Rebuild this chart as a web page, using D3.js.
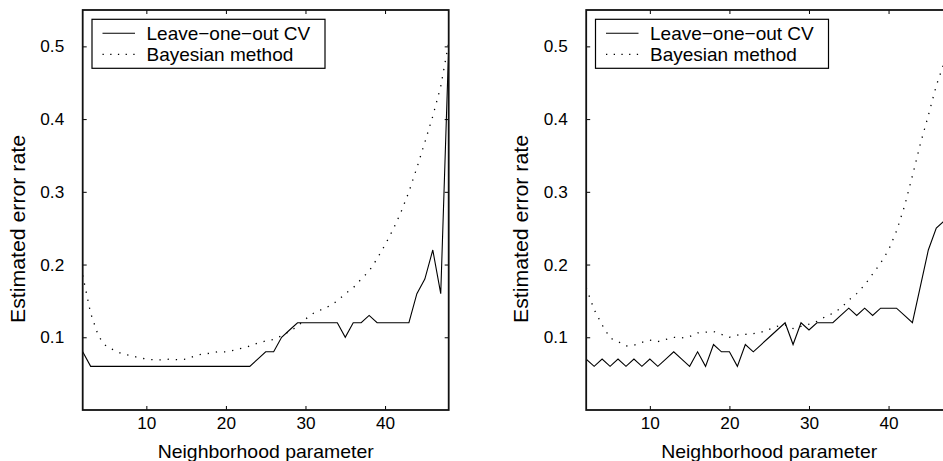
<!DOCTYPE html>
<html>
<head>
<meta charset="utf-8">
<script src="https://cdn.jsdelivr.net/npm/d3@7/dist/d3.min.js"></script>
<style>
  html, body { margin: 0; padding: 0; background: #fff; }
  svg { display: block; }
  text { font-family: "Liberation Sans", Arial, Helvetica, sans-serif; fill: #000; }
</style>
</head>
<body>
<svg id="chart" width="943" height="461"></svg>
<script>
// ---- data ----
const neighborhood = [2,3,4,5,6,7,8,9,10,11,12,13,14,15,16,17,18,19,20,21,22,23,24,25,26,27,28,29,30,31,32,33,34,35,36,37,38,39,40,41,42,43,44,45,46,47,48];

const leftCV = [0.08,0.06,0.06,0.06,0.06,0.06,0.06,0.06,0.06,0.06,0.06,0.06,0.06,0.06,0.06,0.06,0.06,0.06,0.06,0.06,0.06,0.06,0.07,0.08,0.08,0.10,0.11,0.12,0.12,0.12,0.12,0.12,0.12,0.10,0.12,0.12,0.13,0.12,0.12,0.12,0.12,0.12,0.16,0.18,0.22,0.16,0.50];
const leftBayes = [0.185,0.133,0.101,0.087,0.082,0.077,0.075,0.072,0.070,0.069,0.069,0.070,0.069,0.070,0.074,0.077,0.078,0.080,0.080,0.082,0.085,0.088,0.092,0.095,0.097,0.102,0.108,0.115,0.125,0.133,0.138,0.143,0.150,0.160,0.168,0.180,0.191,0.208,0.227,0.248,0.272,0.300,0.333,0.368,0.404,0.445,0.505];

const rightCV = [0.07,0.06,0.07,0.06,0.07,0.06,0.07,0.06,0.07,0.06,0.07,0.08,0.07,0.06,0.08,0.06,0.09,0.08,0.08,0.06,0.09,0.08,0.09,0.10,0.11,0.12,0.09,0.12,0.11,0.12,0.12,0.12,0.13,0.14,0.13,0.14,0.13,0.14,0.14,0.14,0.13,0.12,0.17,0.22,0.25,0.26,0.27];
const rightBayes = [0.168,0.138,0.117,0.099,0.094,0.088,0.089,0.093,0.096,0.094,0.097,0.100,0.099,0.101,0.106,0.107,0.108,0.104,0.100,0.103,0.104,0.105,0.107,0.111,0.115,0.117,0.112,0.115,0.118,0.122,0.128,0.133,0.140,0.151,0.160,0.172,0.187,0.202,0.220,0.246,0.280,0.322,0.366,0.405,0.446,0.478,0.51];

const seriesNames = ["Leave\u2212one\u2212out CV", "Bayesian method"];
const xTicks = [10, 20, 30, 40];
const yTicks = [0.1, 0.2, 0.3, 0.4, 0.5];
const xDomain = [2, 48];
const yDomain = [0, 0.55];
const xLabel = "Neighborhood parameter";
const yLabel = "Estimated error rate";

// ---- layout ----
const panelW = 366, panelH = 400, topM = 10;
const panels = [
  { left: 82.7, cv: leftCV, bayes: leftBayes },
  { left: 586.2, cv: rightCV, bayes: rightBayes }
];
const tickFont = 17.2, labelFont = 19, legendFont = 19;

const svg = d3.select("#chart");

panels.forEach((p, i) => {
  const g = svg.append("g").attr("transform", `translate(${p.left},${topM})`);
  const x = d3.scaleLinear().domain(xDomain).range([0, panelW]);
  const y = d3.scaleLinear().domain(yDomain).range([panelH, 0]);

  const clipId = "clip" + i;
  g.append("clipPath").attr("id", clipId)
    .append("rect").attr("x", 0).attr("y", 0).attr("width", panelW).attr("height", panelH);

  const styleAxis = sel => {
    sel.select(".domain").remove();
    sel.selectAll(".tick line").attr("stroke", "#000").attr("stroke-width", 1);
    sel.selectAll(".tick text").style("font-size", tickFont + "px").attr("fill", "#000");
  };
  g.append("g").attr("transform", `translate(0,${panelH})`)
    .call(d3.axisBottom(x).tickValues(xTicks).tickSizeInner(-4).tickSizeOuter(0).tickPadding(6.5).tickFormat(d3.format("d")))
    .call(styleAxis);
  g.append("g")
    .call(d3.axisTop(x).tickValues(xTicks).tickSizeInner(-4).tickSizeOuter(0).tickFormat(""))
    .call(styleAxis);
  g.append("g")
    .call(d3.axisLeft(y).tickValues(yTicks).tickSizeInner(-4).tickSizeOuter(0).tickPadding(18.5).tickFormat(d3.format(".1f")))
    .call(styleAxis);
  g.append("g").attr("transform", `translate(${panelW},0)`)
    .call(d3.axisRight(y).tickValues(yTicks).tickSizeInner(-4).tickSizeOuter(0).tickFormat(""))
    .call(styleAxis);

  const line = d3.line().x((d, k) => x(neighborhood[k])).y(d => y(d));
  const plot = g.append("g").attr("clip-path", `url(#${clipId})`);
  plot.append("path").datum(p.bayes).attr("d", line)
    .attr("fill", "none").attr("stroke", "#000").attr("stroke-width", 1.3)
    .attr("stroke-dasharray", "1.3,6.9");
  plot.append("path").datum(p.cv).attr("d", line)
    .attr("fill", "none").attr("stroke", "#000").attr("stroke-width", 1.1)
    .attr("stroke-linejoin", "miter");

  g.append("rect").attr("x", 0).attr("y", 0).attr("width", panelW).attr("height", panelH)
    .attr("fill", "none").attr("stroke", "#111").attr("stroke-width", 1.8);

  g.append("text").attr("x", panelW / 2).attr("y", 457.5 - topM)
    .attr("text-anchor", "middle").style("font-size", labelFont + "px")
    .attr("textLength", 216).attr("lengthAdjust", "spacingAndGlyphs").text(xLabel);
  g.append("text")
    .attr("transform", `translate(${-58},${219}) rotate(-90)`)
    .attr("text-anchor", "middle").style("font-size", "20px")
    .attr("textLength", 188).attr("lengthAdjust", "spacingAndGlyphs").text(yLabel);

  const lg = g.append("g").attr("transform", "translate(9.3,9.3)");
  lg.append("rect").attr("x", 0).attr("y", 0).attr("width", 233).attr("height", 49)
    .attr("fill", "#fff").attr("stroke", "#000").attr("stroke-width", 1.2);
  const rows = [
    { name: seriesNames[0], dash: null, y: 14 },
    { name: seriesNames[1], dash: "1.3,6.4", y: 35 }
  ];
  rows.forEach(r => {
    lg.append("line").attr("x1", 10.5).attr("x2", 43).attr("y1", r.y).attr("y2", r.y)
      .attr("stroke", "#000").attr("stroke-width", r.dash ? 1.3 : 1.1)
      .attr("stroke-dasharray", r.dash);
    lg.append("text").attr("x", 54.5).attr("y", r.y).attr("dy", "0.35em")
      .style("font-size", legendFont + "px").text(r.name);
  });
});
</script>
</body>
</html>
